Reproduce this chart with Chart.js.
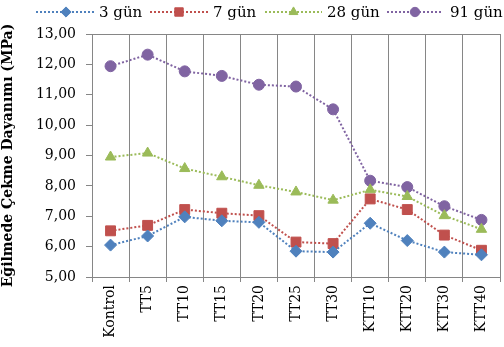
<!DOCTYPE html>
<html>
<head>
<meta charset="utf-8">
<script src="https://cdn.jsdelivr.net/npm/chart.js@4"></script>
<style>
  body { margin: 0; overflow: hidden; background: #fff; }
  #wrap { width: 508px; height: 347px; }
</style>
</head>
<body>
<div id="wrap"><canvas id="chart" width="508" height="347"></canvas></div>
<script>
const kategoriler = ['Kontrol', 'TT5', 'TT10', 'TT15', 'TT20', 'TT25', 'TT30', 'KTT10', 'KTT20', 'KTT30', 'KTT40'];
const gun3 = [6.05, 6.35, 6.98, 6.85, 6.80, 5.85, 5.82, 6.77, 6.20, 5.82, 5.73];
const gun7 = [6.52, 6.70, 7.22, 7.10, 7.02, 6.15, 6.10, 7.57, 7.22, 6.38, 5.88];
const gun28 = [8.95, 9.08, 8.57, 8.30, 8.02, 7.80, 7.53, 7.87, 7.65, 7.02, 6.57];
const gun91 = [11.94, 12.32, 11.77, 11.62, 11.33, 11.27, 10.52, 8.17, 7.96, 7.33, 6.88];
const yTicks = [5, 6, 7, 8, 9, 10, 11, 12, 13];

const serif = 'DejaVu Serif';
const gri = '#868686';

function seri(label, data, color, style, radius) {
    return {
        label: label,
        data: data,
        borderColor: color,
        backgroundColor: color,
        borderWidth: 2,
        borderDash: [2, 2],
        pointStyle: style,
        pointRadius: radius,
        pointHoverRadius: radius,
        pointBackgroundColor: color,
        pointBorderColor: color,
        pointBorderWidth: 1,
        tension: 0
    };
}

// legend: dotted line with the marker in the middle, text after it
const legendPlugin = {
    id: 'excelLegend',
    afterDraw(chart) {
        const ctx = chart.ctx;
        const items = [[36, 96, 99], [150, 208, 213], [265, 322, 327], [387, 443, 450]];
        const y = 12;
        chart.data.datasets.forEach((ds, i) => {
            const [x1, x2, tx] = items[i];
            ctx.save();
            ctx.strokeStyle = ds.borderColor;
            ctx.lineWidth = 2;
            ctx.setLineDash([2, 2]);
            ctx.beginPath();
            ctx.moveTo(x1, y);
            ctx.lineTo(x2, y);
            ctx.stroke();
            ctx.setLineDash([]);
            ctx.lineWidth = 1;
            ctx.fillStyle = ds.borderColor;
            ctx.strokeStyle = ds.borderColor;
            Chart.helpers.drawPoint(ctx, {
                pointStyle: ds.pointStyle,
                radius: ds.pointRadius * 0.85,
                borderWidth: 1
            }, (x1 + x2) / 2, y);
            ctx.fillStyle = '#000';
            ctx.font = '15px "' + serif + '"';
            ctx.textBaseline = 'middle';
            ctx.textAlign = 'left';
            ctx.fillText(ds.label, tx, y + 1);
            ctx.restore();
        });
    }
};

const ctx = document.getElementById('chart').getContext('2d');
const chart = new Chart(ctx, {
    type: 'line',
    data: {
        labels: kategoriler,
        datasets: [
            seri('3 gün', gun3, '#4F81BD', 'rectRot', 6),
            seri('7 gün', gun7, '#C0504D', 'rect', 7),
            seri('28 gün', gun28, '#9BBB59', 'triangle', 6),
            seri('91 gün', gun91, '#8064A2', 'circle', 5.5)
        ]
    },
    options: {
        responsive: false,
        animation: false,
        layout: { padding: { top: 34, left: 0, right: 0, bottom: 0 } },
        plugins: {
            legend: { display: false },
            tooltip: { enabled: false }
        },
        scales: {
            x: {
                offset: true,
                grid: {
                    offset: true,
                    color: gri,
                    tickColor: gri,
                    tickLength: 5
                },
                border: { color: gri },
                ticks: {
                    minRotation: 90,
                    maxRotation: 90,
                    padding: 3,
                    color: '#000',
                    font: { family: serif, size: 14 }
                },
                afterFit(scale) { scale.height = 70; }
            },
            y: {
                min: 5,
                max: 13,
                afterBuildTicks(scale) {
                    scale.ticks = yTicks.map(v => ({ value: v }));
                },
                grid: {
                    color: c => (c.tick && c.tick.value === 13) ? gri : 'rgba(0,0,0,0)',
                    tickColor: gri,
                    tickLength: 6
                },
                border: { color: gri },
                ticks: {
                    padding: 10,
                    color: '#000',
                    font: { family: serif, size: 14 },
                    callback: v => v.toFixed(2).replace('.', ',')
                },
                title: {
                    display: true,
                    text: 'Eğilmede Çekme Dayanımı (MPa)',
                    color: '#000',
                    font: { family: serif, size: 14, weight: 'bold' },
                    padding: { top: 0, bottom: 0 }
                },
                afterFit(scale) { scale.width = 92; }
            }
        }
    },
    plugins: [legendPlugin]
});
</script>
</body>
</html>
